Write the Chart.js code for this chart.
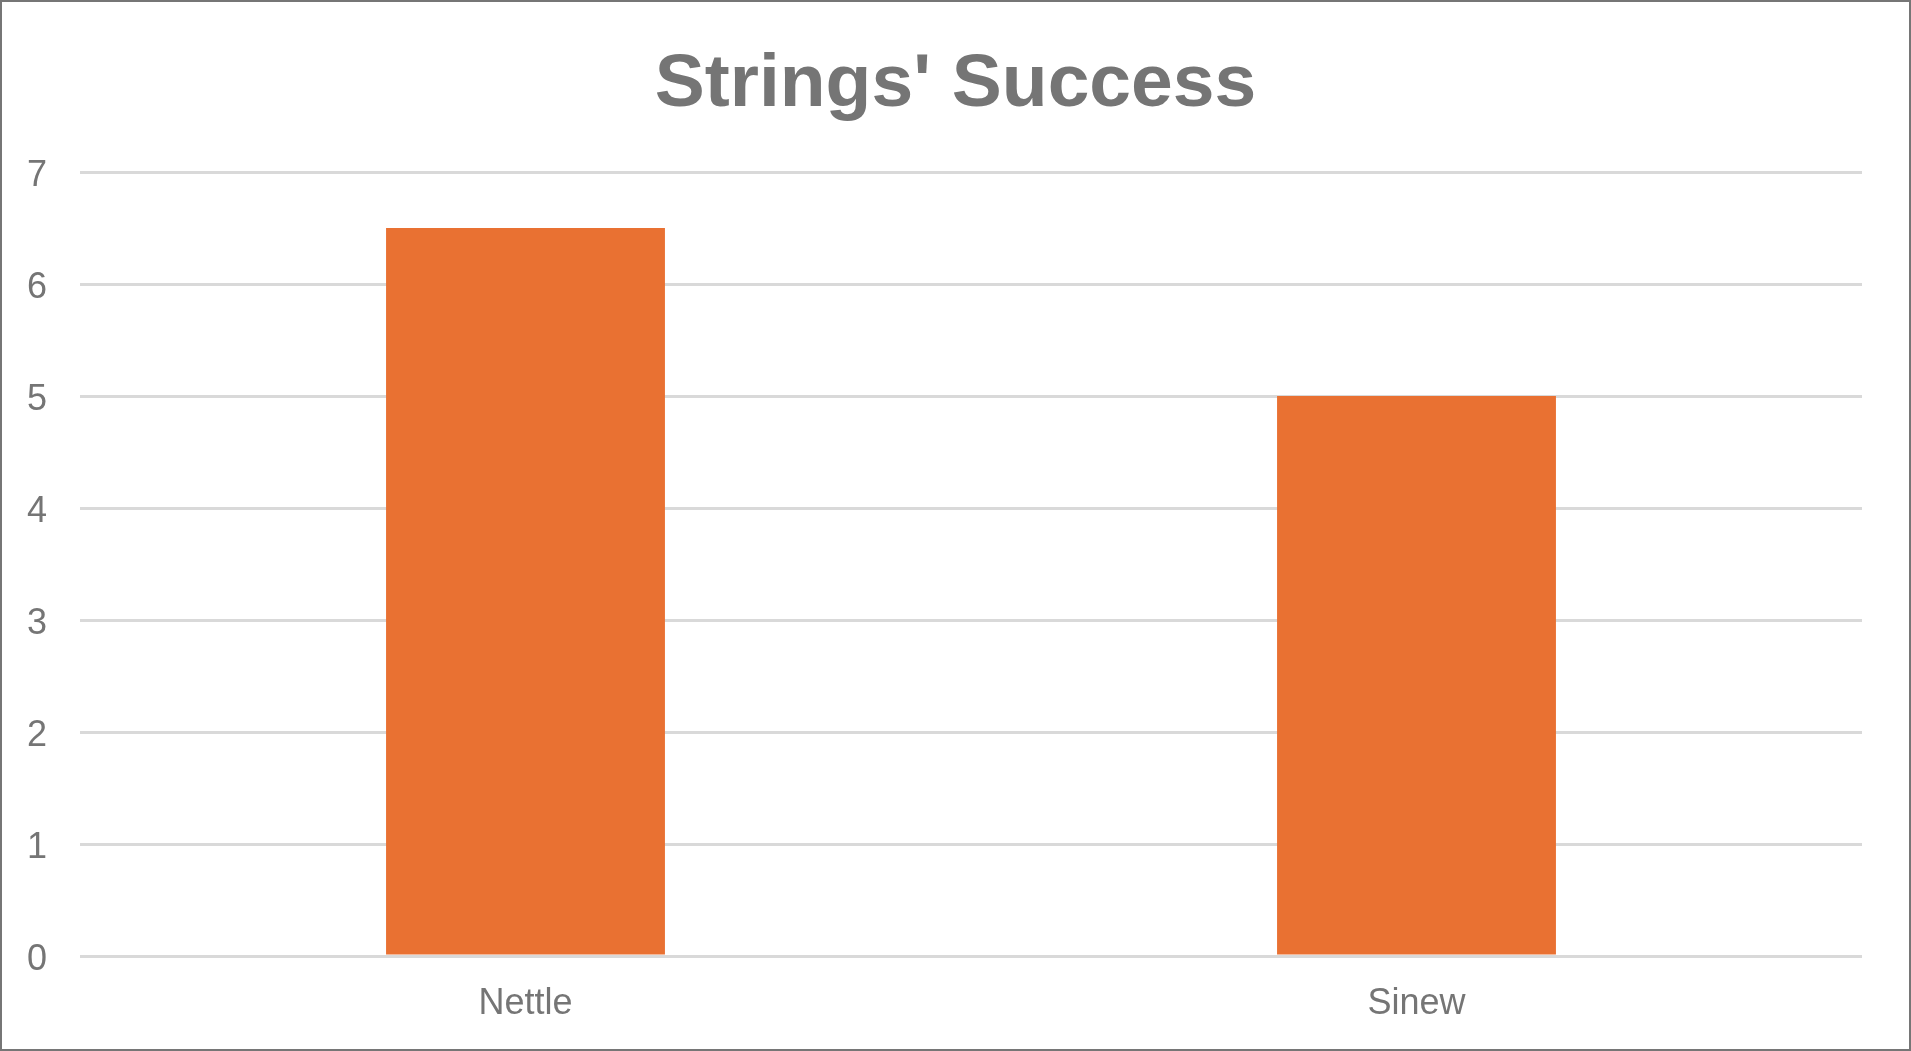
<!DOCTYPE html>
<html>
<head>
<meta charset="utf-8">
<script src="https://cdn.jsdelivr.net/npm/chart.js@4.4.1/dist/chart.umd.min.js"></script>
<style>
  html, body { margin: 0; padding: 0; background: #fff; }
  #wrap {
    width: 1911px; height: 1051px;
    box-sizing: border-box;
    border: 2px solid #767676;
    background: #fff;
  }
  #chart { display: block; }
</style>
</head>
<body>
<div id="wrap"><canvas id="chart" width="1907" height="1047"></canvas></div>
<script>
// データ
const titleText = "Strings' Success";
const categories = ["Nettle", "Sinew"];
const successValues = [6.5, 5];
const yMin = 0;
const yMax = 7;
const yStep = 1;

const textColor = "#757575";
const fontFamily = "'Liberation Sans', Arial, sans-serif";

// タイトルをキャンバス全幅の中央に置く
const centerTitle = {
  id: "centerTitle",
  afterLayout(chart) {
    const t = chart.titleBlock;
    if (t) {
      t.left = 0;
      t.right = chart.width;
      t.width = chart.width;
    }
  },
};

const ctx = document.getElementById("chart");

new Chart(ctx, {
  type: "bar",
  data: {
    labels: categories,
    datasets: [
      {
        label: "Success",
        data: successValues,
        backgroundColor: "#E97132",
        borderWidth: 0,
        barPercentage: 0.313,
        categoryPercentage: 1,
      },
    ],
  },
  options: {
    responsive: false,
    animation: false,
    layout: {
      padding: { left: 0, right: 47, top: 0, bottom: 0 },
    },
    plugins: {
      legend: { display: false },
      tooltip: { enabled: false },
      title: {
        display: true,
        text: titleText,
        color: textColor,
        font: { family: fontFamily, size: 75, weight: "bold", lineHeight: 1 },
        padding: { top: 46, bottom: 49 },
      },
    },
    scales: {
      x: {
        grid: { display: false, drawTicks: false },
        border: { display: false },
        ticks: {
          color: textColor,
          font: { family: fontFamily, size: 36 },
          padding: 26,
        },
        afterFit: function (scale) {
          scale.height = 93;
        },
      },
      y: {
        min: yMin,
        max: yMax,
        grid: {
          color: "#D9D9D9",
          lineWidth: 3,
          drawTicks: false,
        },
        border: { display: false },
        ticks: {
          stepSize: yStep,
          color: textColor,
          font: { family: fontFamily, size: 36 },
          padding: 33,
          labelOffset: 4,
        },
        afterFit: function (scale) {
          scale.width = 78;
        },
      },
    },
  },
  plugins: [centerTitle],
});
</script>
</body>
</html>
